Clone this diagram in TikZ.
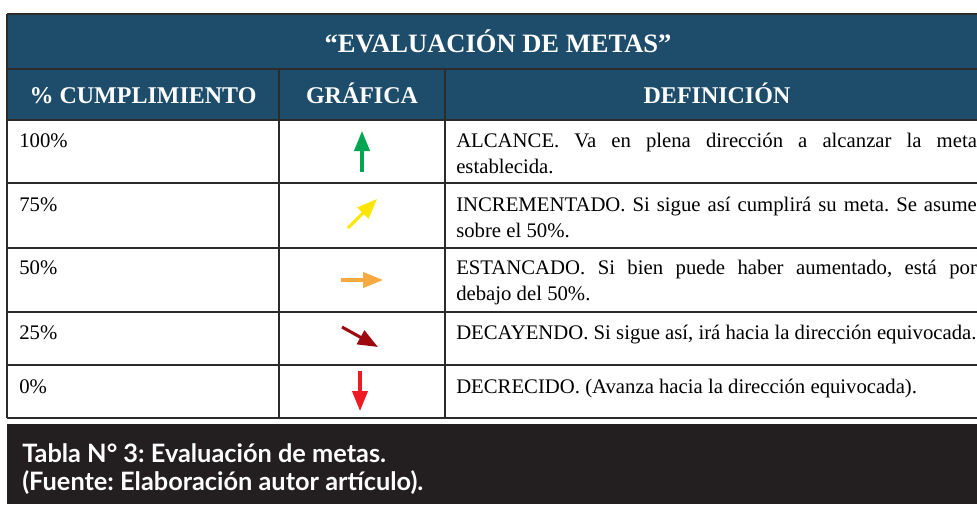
\documentclass[tikz,border=0pt]{standalone}
\usepackage{fontspec}
\setmainfont{Liberation Serif}
\newfontfamily\capfont{Lato}
\usetikzlibrary{arrows.meta}
\usetikzlibrary{positioning}

\definecolor{headblue}{HTML}{1E4D6B}
\definecolor{gridgray}{HTML}{2B2B2B}
\definecolor{bandblack}{HTML}{231F20}
\definecolor{upgreen}{HTML}{00A651}
\definecolor{riseyellow}{HTML}{FFE600}
\definecolor{flatorange}{HTML}{F8AA42}
\definecolor{dropred}{HTML}{9E0B0F}
\definecolor{downred}{HTML}{ED1C24}

\begin{document}
\frenchspacing
\begin{tikzpicture}[
			x = 0.75pt, y = -0.75pt,
			grid/.style = {line width = 1.9pt, draw = gridgray},
			titletext/.style = {
				text = white, inner sep = 0, anchor = base,
				font = \fontsize{19.9}{22}\selectfont\bfseries,
			},
			headtext/.style = {
				titletext, font = \fontsize{18}{21}\selectfont\bfseries,
			},
			pcttext/.style = {
				inner sep = 0, anchor = base west,
				font = \fontsize{15.55}{19.5}\selectfont,
			},
			deftext/.style = {
				pcttext, text width = 390.5pt, align = justify,
			},
			goal/.style = {
				line width = 2.3pt,
				-{Triangle[length = 15pt, width = 11.5pt]},
			},
			captext/.style = {
				text = white, inner sep = 0, anchor = base west,
				font = \capfont\bfseries\fontsize{19}{21}\selectfont,
			},
		]

		\useasboundingbox (0,0) rectangle (977,504);
		\fill[white] (0,0) rectangle (977,504);
		\clip (0,0) rectangle (977,504);

		% header band
		\fill[headblue] (7,14) rectangle (990,120);
		\node[titletext] (title) at (498,52) {“EVALUACIÓN DE METAS”};
		\node[headtext] (hpct) at (143,103) {\% CUMPLIMIENTO};
		\node[headtext] (hgraf) at (362,103) {GRÁFICA};
		\node[headtext] (hdef) at (717,103) {DEFINICIÓN};

		% table grid
		\foreach \y in {14, 69, 120, 183, 248, 312, 365, 418}
			\draw[grid] (7,\y) -- (990,\y);
		\draw[grid] (7,14) -- (7,418);
		\draw[grid] (990,14) -- (990,418);
		\draw[grid] (279,69) -- (279,418);
		\draw[grid] (445,69) -- (445,418);

		% first column
		\foreach \pct/\yb [count=\i] in {100/147, 75/211, 50/274, 25/339, 0/393}
			\node[pcttext] (pct\i) at (19,\yb) {\pct\%};

		% definitions
		\node[deftext] (def1) at (456,147)
			{ALCANCE. Va en plena dirección a alcanzar la meta\linebreak establecida.};
		\node[deftext] (def2) at (456,211)
			{INCREMENTADO. Si sigue así cumplirá su meta. Se asume\linebreak sobre el 50\%.};
		\node[deftext] (def3) at (456,274)
			{ESTANCADO. Si bien puede haber aumentado, está por\linebreak debajo del 50\%.};
		\node[pcttext] (def4) at (456,339)
			{DECAYENDO. Si sigue así, irá hacia la dirección equivocada.};
		\node[pcttext] (def5) at (456,393)
			{DECRECIDO. (Avanza hacia la dirección equivocada).};

		% trend arrows
		\coordinate (g1s) at (362,172);
		\coordinate (g1e) at (362,131);
		\coordinate (g2s) at (348,228);
		\coordinate (g2e) at (377,199);
		\coordinate (g3s) at (341,280);
		\coordinate (g3e) at (383,280);
		\coordinate (g4s) at (342,327);
		\coordinate (g4e) at (378,347);
		\coordinate (g5s) at (360,371);
		\coordinate (g5e) at (360,411);
		\draw[goal, upgreen] (g1s) -- (g1e);
		\draw[goal, riseyellow] (g2s) -- (g2e);
		\draw[goal, flatorange] (g3s) -- (g3e);
		\draw[goal, dropred] (g4s) -- (g4e);
		\draw[goal, downred] (g5s) -- (g5e);

		% caption band
		\fill[bandblack] (7,424) rectangle (977,504);
		\node[captext] (cap1) at (22,462) {Tabla N° 3: Evaluación de metas.};
		\node[captext] (cap2) at (22,490) {(Fuente: Elaboración autor artículo).};

	\end{tikzpicture}
\end{document}
